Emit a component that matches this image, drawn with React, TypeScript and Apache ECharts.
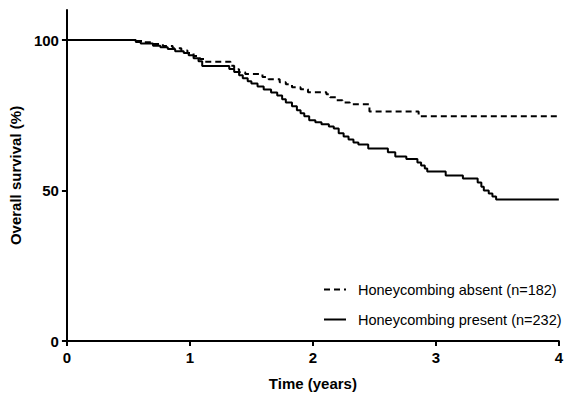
import React, { useEffect, useRef } from "react";
import * as echarts from "echarts";

const absentTimes = [0, 0.55, 0.62, 0.70, 0.78, 0.86, 0.93, 0.98, 1.03, 1.08, 1.12, 1.33, 1.36, 1.40, 1.45, 1.59, 1.64, 1.73, 1.78, 1.83, 1.90, 1.96, 2.11, 2.14, 2.19, 2.24, 2.30, 2.46, 2.86, 4.0];
const absentSurvival = [100, 99.7, 99.3, 98.7, 98.0, 97.3, 96.5, 95.7, 94.7, 93.7, 92.8, 91.5, 90.3, 89.3, 88.7, 87.7, 87.0, 86.0, 85.3, 84.3, 83.7, 82.7, 82.0, 81.0, 80.0, 79.3, 78.7, 76.3, 74.7, 74.7];

const presentTimes = [0, 0.56, 0.60, 0.70, 0.76, 0.82, 0.88, 0.95, 0.99, 1.03, 1.07, 1.10, 1.32, 1.36, 1.40, 1.43, 1.47, 1.50, 1.55, 1.60, 1.66, 1.71, 1.75, 1.78, 1.83, 1.87, 1.90, 1.93, 1.97, 2.02, 2.07, 2.13, 2.17, 2.21, 2.25, 2.29, 2.33, 2.37, 2.45, 2.61, 2.67, 2.76, 2.85, 2.88, 2.91, 2.93, 3.08, 3.22, 3.34, 3.37, 3.39, 3.43, 3.46, 3.49, 4.0];
const presentSurvival = [100, 99.4, 98.9, 98.1, 97.6, 97.0, 96.3, 95.7, 95.0, 94.0, 93.0, 91.4, 90.4, 89.4, 88.3, 87.3, 86.3, 85.6, 84.6, 83.6, 82.6, 81.6, 80.3, 79.3, 78.0, 76.7, 75.7, 74.7, 73.4, 72.7, 72.0, 71.3, 70.6, 69.0, 68.0, 67.0, 66.0, 65.3, 64.0, 62.7, 61.3, 60.5, 59.3, 58.3, 57.3, 56.3, 55.0, 54.0, 52.7, 51.3, 50.0, 49.0, 48.0, 47.0, 47.0];

const seriesNames = ["Honeycombing absent (n=182)", "Honeycombing present (n=232)"];
const yTicks = [0, 50, 100];
const xTitle = "Time (years)";
const yTitle = "Overall survival (%)";

const FONT = "'Liberation Sans', Arial, Helvetica, sans-serif";

function zip(t: number[], s: number[]) {
  return t.map((v, i) => [v, s[i]]);
}

export default function App() {
  const ref = useRef<HTMLDivElement>(null);
  useEffect(() => {
    if (!ref.current) return;
    const chart = echarts.init(ref.current, undefined, { renderer: "svg" });
    chart.setOption({
      animation: false,
      backgroundColor: "#ffffff",
      grid: { left: 63, right: 7, top: 10, bottom: 56, containLabel: false },
      legend: {
        orient: "vertical",
        left: 318,
        top: 277,
        itemWidth: 22,
        itemHeight: 14,
        itemGap: 15,
        itemStyle: { opacity: 0 },
        lineStyle: { width: 2 },
        textStyle: { fontFamily: FONT, fontSize: 14.5, color: "#000", padding: [0, 0, 0, 7] },
        data: seriesNames,
      },
      xAxis: {
        type: "value",
        min: 0,
        max: 4,
        interval: 1,
        name: xTitle,
        nameLocation: "middle",
        nameGap: 35,
        nameTextStyle: { fontFamily: FONT, fontSize: 15, fontWeight: "bold", color: "#000" },
        axisLine: { show: true, lineStyle: { color: "#000", width: 2 } },
        axisTick: { show: true, length: 5, lineStyle: { color: "#000", width: 2 } },
        axisLabel: { fontFamily: FONT, fontSize: 15, fontWeight: "bold", color: "#000", margin: 9 },
        splitLine: { show: false },
      },
      yAxis: {
        type: "value",
        min: 0,
        max: 110,
        name: yTitle,
        nameLocation: "middle",
        nameGap: 38,
        nameRotate: 90,
        nameTextStyle: { fontFamily: FONT, fontSize: 15, fontWeight: "bold", color: "#000" },
        axisLine: { show: true, lineStyle: { color: "#000", width: 2 } },
        axisTick: { show: true, length: 5, customValues: yTicks, lineStyle: { color: "#000", width: 2 } },
        axisLabel: { fontFamily: FONT, fontSize: 15, fontWeight: "bold", color: "#000", margin: 8, customValues: yTicks },
        splitLine: { show: false },
      },
      series: [
        {
          name: seriesNames[0],
          type: "line",
          step: "end",
          symbol: "none",
          data: zip(absentTimes, absentSurvival),
          lineStyle: { color: "#000", width: 2, type: [6, 4] },
          itemStyle: { color: "#000" },
          z: 2,
        },
        {
          name: seriesNames[1],
          type: "line",
          step: "end",
          symbol: "none",
          data: zip(presentTimes, presentSurvival),
          lineStyle: { color: "#000", width: 2, type: "solid" },
          itemStyle: { color: "#000" },
          z: 3,
        },
      ],
    });
    return () => chart.dispose();
  }, []);
  return <div ref={ref} style={{ position: "fixed", left: 0, top: 0, width: 566, height: 397 }} />;
}
